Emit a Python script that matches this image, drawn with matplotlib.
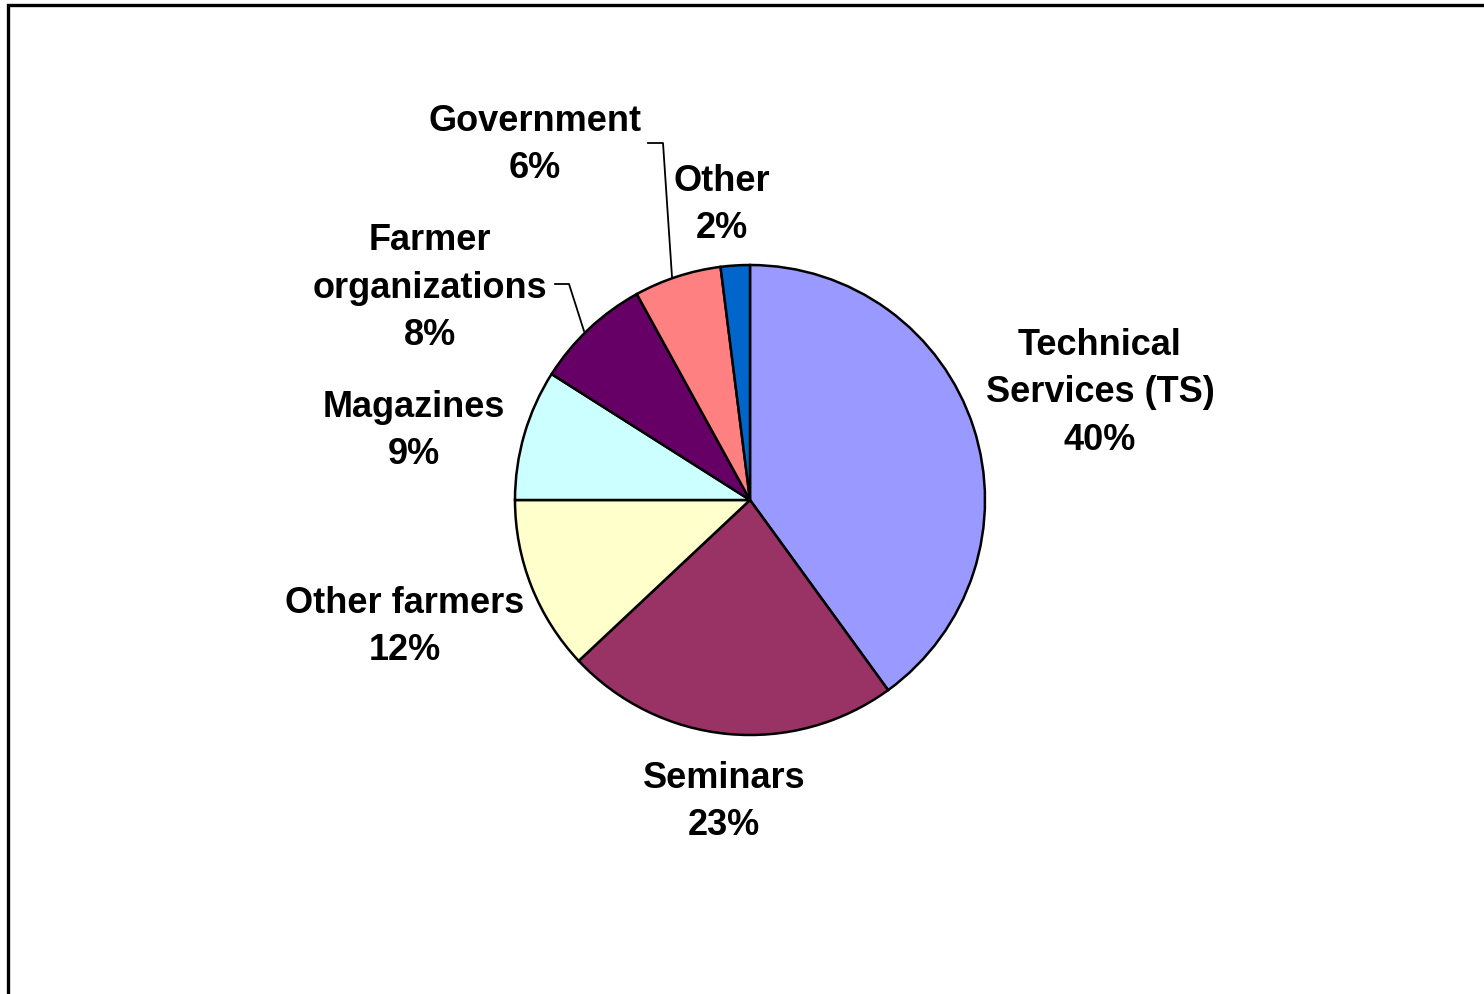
import matplotlib.pyplot as plt
from matplotlib.patches import Rectangle

plt.rcParams['font.family'] = ['Liberation Sans', 'DejaVu Sans']

# data
labels = ['Technical\nServices (TS)', 'Seminars', 'Other farmers', 'Magazines',
          'Farmer\norganizations', 'Government', 'Other']
shares = [40, 23, 12, 9, 8, 6, 2]
colors = ['#9999FF', '#993366', '#FFFFCC', '#CCFFFF', '#660066', '#FF8080', '#0066CC']

# label centres in pixel coords (from top-left)
label_pos = [(1100, 393), (724, 802), (405, 627), (414, 431),
             (430, 288), (535, 145), (722, 205)]

W, H = 1484, 994
fig = plt.figure(figsize=(W / 100, H / 100), dpi=100)
ax = fig.add_axes([0, 0, 1, 1])

ax.pie(shares, colors=colors, startangle=90, counterclock=False,
       center=(750, H - 500), radius=235, frame=True,
       wedgeprops=dict(edgecolor='black', linewidth=1.8))
ax.set_xlim(0, W)
ax.set_ylim(0, H)
ax.set_aspect('equal')
ax.axis('off')

for lab, s, (x, y) in zip(labels, shares, label_pos):
    ax.text(x, H - y, f'{lab}\n{s}%', ha='center', va='center',
            fontsize=26, fontweight='bold', linespacing=1.45)

# leader lines
ax.plot([648, 663, 672], [H - 143, H - 143, H - 277], color='black', lw=1.3)
ax.plot([555, 569, 584], [H - 284, H - 284, H - 331], color='black', lw=1.3)

# outer frame (bottom/right cut off)
fig.patches.append(Rectangle((8 / W, -0.1), 1.2, (H - 5) / H + 0.1,
                             transform=fig.transFigure, fill=False,
                             edgecolor='black', linewidth=2.4))

fig.savefig('out.png', dpi=100)
